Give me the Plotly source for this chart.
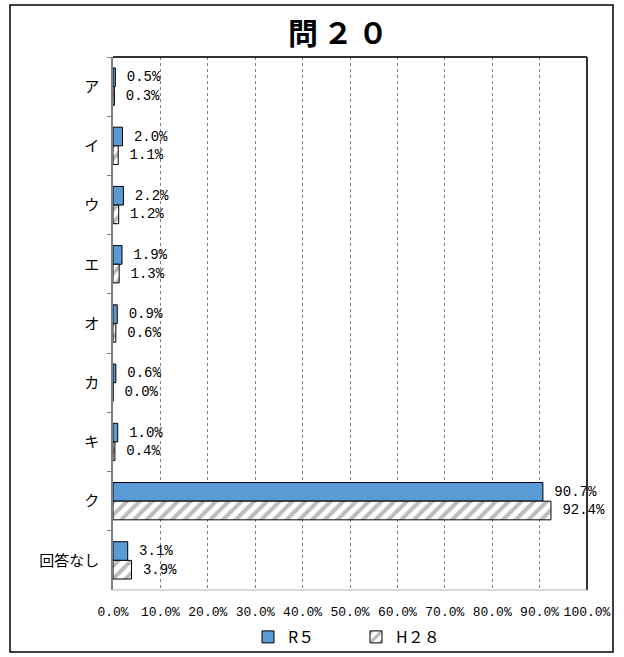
import plotly.graph_objects as go

categories = ["ア", "イ", "ウ", "エ", "オ", "カ", "キ", "ク", "回答なし"]
r5_values = [0.5, 2.0, 2.2, 1.9, 0.9, 0.6, 1.0, 90.7, 3.1]
h28_values = [0.3, 1.1, 1.2, 1.3, 0.6, 0.0, 0.4, 92.4, 3.9]
x_tick_vals = [0, 10, 20, 30, 40, 50, 60, 70, 80, 90, 100]
x_tick_text = ["0.0%", "10.0%", "20.0%", "30.0%", "40.0%", "50.0%", "60.0%", "70.0%", "80.0%", "90.0%", "100.0%"]

FONT = "Noto Sans CJK JP"
MONO = "Liberation Mono"
W, H = 624, 657
L, R, T, B = 113, 37, 57, 67
pw, ph = W - L - R, H - T - B

def px_x(x):
    return (x - L) / pw

def px_y(y):
    return (H - B - y) / ph

fig = go.Figure()
fig.add_trace(go.Bar(
    y=categories, x=r5_values, name="R５", orientation="h",
    marker=dict(color="#5B9BD5", line=dict(color="black", width=1)),
    text=[f" {v:.1f}%" for v in r5_values], textposition="outside",
    textfont=dict(size=14, color="black", family=MONO), cliponaxis=False,
))
fig.add_trace(go.Bar(
    y=categories, x=h28_values, name="H２８", orientation="h",
    marker=dict(color="white", line=dict(color="black", width=1),
                pattern=dict(shape="/", fgcolor="#7a7a7a", bgcolor="white", size=9, solidity=0.45)),
    text=[f" {v:.1f}%" for v in h28_values], textposition="outside",
    textfont=dict(size=14, color="black", family=MONO), cliponaxis=False,
))

fig.update_layout(
    width=W, height=H,
    margin=dict(l=L, r=R, t=T, b=B, autoexpand=False),
    paper_bgcolor="white", plot_bgcolor="white",
    barmode="group", bargap=0.37, bargroupgap=0,
    font=dict(family=FONT, color="black"),
    title=dict(text="<b>問\u2006２\u2006０</b>", x=px_x(338), xref="paper", xanchor="center",
               y=1 - 33 / H, yanchor="middle", font=dict(size=30, family=FONT, color="black")),
    legend=dict(orientation="h", x=px_x(356), xanchor="center", y=px_y(637), yanchor="middle",
                font=dict(size=16, family=FONT), traceorder="normal", itemwidth=30,
                entrywidth=63, entrywidthmode="pixels",
                bgcolor="rgba(0,0,0,0)"),
    xaxis=dict(range=[0, 100], tickvals=x_tick_vals, ticktext=x_tick_text,
               showgrid=True, gridcolor="#808080", griddash="dot", gridwidth=1,
               zeroline=False, showline=False, ticks="", automargin=False,
               ticklabelstandoff=12,
               tickfont=dict(size=13, family=MONO), fixedrange=True),
    yaxis=dict(autorange="reversed", type="category", tickson="boundaries",
               ticks="outside", ticklen=4, tickcolor="#808080", automargin=False,
               showline=True, linecolor="#808080", linewidth=1.5, ticklabelstandoff=9,
               showgrid=False, tickfont=dict(size=15, family=FONT)),
    shapes=[
        dict(type="line", xref="paper", yref="paper", x0=0, x1=1, y0=1, y1=1,
             line=dict(color="#333333", width=2)),
        dict(type="line", xref="paper", yref="paper", x0=1, x1=1, y0=0, y1=1,
             line=dict(color="#333333", width=2)),
        dict(type="line", xref="paper", yref="paper", x0=0, x1=1, y0=0, y1=0,
             line=dict(color="#b0b0b0", width=1)),
        dict(type="rect", xref="paper", yref="paper",
             x0=px_x(10), x1=px_x(613), y0=px_y(652), y1=px_y(5),
             line=dict(color="black", width=1.5), fillcolor="rgba(0,0,0,0)", layer="below"),
    ],
)

fig.write_html("out.html", config={"displayModeBar": False},
               post_script="document.body.style.margin='0';")
